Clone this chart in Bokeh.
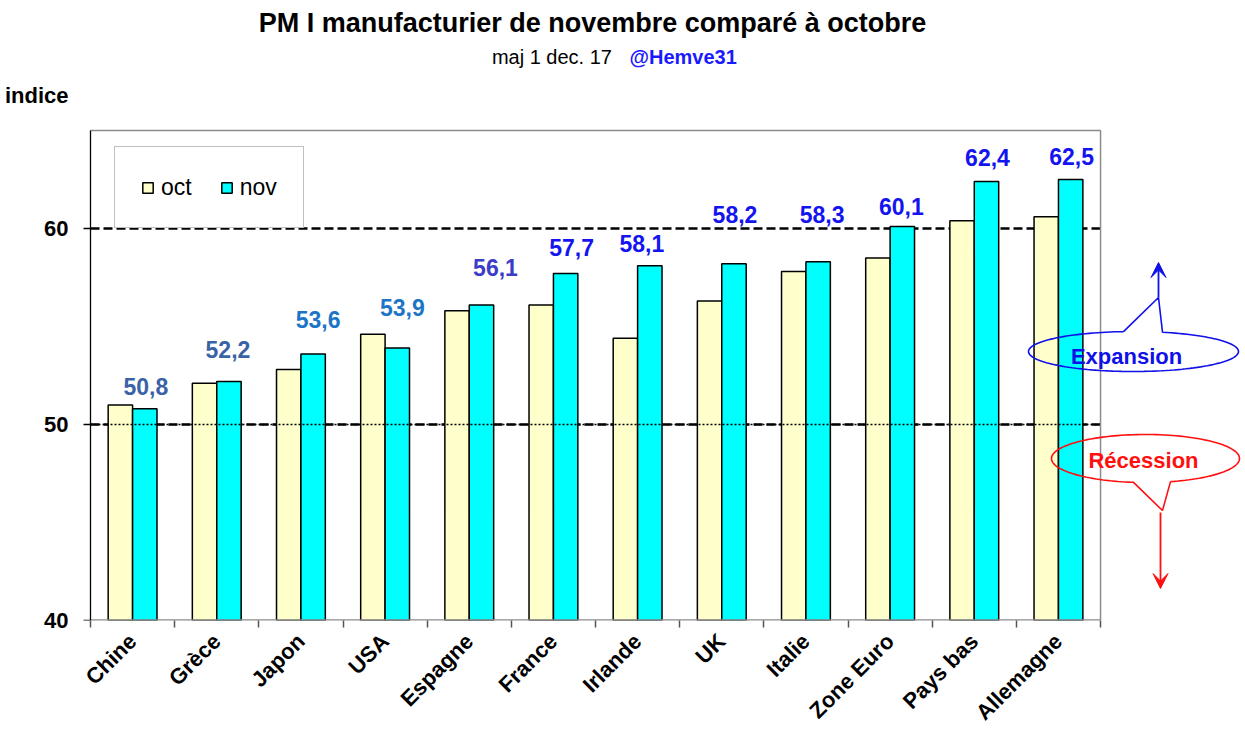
import numpy as np
from math import pi
from bokeh.plotting import figure
from bokeh.models import (FixedTicker, Range1d, Label, Arrow, VeeHead, Legend, LegendItem,
                          ColumnDataSource, CustomJSTickFormatter)
from bokeh.embed import file_html
from bokeh.resources import INLINE
from bokeh.core.properties import value

# ---------------- data ----------------
categories = ["Chine", "Grèce", "Japon", "USA", "Espagne", "France", "Irlande", "UK",
              "Italie", "Zone Euro", "Pays bas", "Allemagne"]
oct_values = [51.0, 52.1, 52.8, 54.6, 55.8, 56.1, 54.4, 56.3, 57.8, 58.5, 60.4, 60.6]
nov_values = [50.8, 52.2, 53.6, 53.9, 56.1, 57.7, 58.1, 58.2, 58.3, 60.1, 62.4, 62.5]
series_names = ["oct", "nov"]
y_ticks = [40, 50, 60]
recession_line = 50
upper_line = 60
title_text = "PM I   manufacturier  de novembre  comparé à octobre"
subtitle_text = "maj  1 dec. 17"
author_text = "@Hemve31"
y_title = "indice"
expansion_text = "Expansion"
recession_text = "Récession"

# ---------------- style ----------------
FONT = "Liberation Sans"
OCT_COLOR = "#ffffcc"
NOV_COLOR = "#00ffff"
label_colors = ["#3a62a6", "#3a62a6", "#1c75c6", "#1c75c6", "#3c3cc8",
                "#1414f0", "#1414f0", "#1414f0", "#1414f0", "#1414f0", "#1414f0", "#1414f0"]
label_dx = [1, -1, 5, 5, 14, 6, -8, 1, 4, -1, 1, 1]        # px
label_gap = [22, 32, 34, 41, 37, 26, 22, 49, 47, 20, 24, 23]  # px above bar top

W, H = 1245, 736
AXIS_X = 90          # page x of the value axis
FRAME_L = 82         # page x of frame left
FRAME_B = 620        # page y of y=40
CAT_PX = 84.17
Y0, Y_TOP = 40, 65
SY = 19.6


def X(px):  # page pixel -> data x
    return (px - AXIS_X) / CAT_PX


def Y(py):  # page pixel -> data y
    return Y0 + (FRAME_B - py) / SY


n = len(categories)
centers = np.arange(n) + 0.5
bw = 0.29

src = ColumnDataSource(dict(
    x_oct=centers - bw / 2, x_nov=centers + bw / 2,
    oct=oct_values, nov=nov_values,
    lbl=[f"{v:.1f}".replace(".", ",") for v in nov_values],
    col=label_colors, dx=label_dx, dy=[-g for g in label_gap],
))

p = figure(width=W, height=H, x_range=Range1d(X(FRAME_L), X(W)), y_range=Range1d(Y0, Y(0)),
           output_backend="svg", toolbar_location=None,
           min_border_left=FRAME_L, min_border_right=0, min_border_top=0,
           min_border_bottom=H - FRAME_B)
p.outline_line_color = None
p.xgrid.visible = False
p.ygrid.visible = False
p.background_fill_color = "white"
p.border_fill_color = "white"

# reference lines under bars
p.segment(x0=[0, 0], x1=[n, n], y0=[upper_line, recession_line], y1=[upper_line, recession_line],
          line_color="black", line_width=2.5, line_dash="9 4")

r_oct = p.vbar(x="x_oct", top="oct", bottom=Y0, width=bw, source=src,
               fill_color=OCT_COLOR, line_color="black", line_width=1.5)
r_nov = p.vbar(x="x_nov", top="nov", bottom=Y0, width=bw, source=src,
               fill_color=NOV_COLOR, line_color="black", line_width=1.5)

# dotted 50 line over bars
p.segment(x0=[0], x1=[n], y0=[recession_line], y1=[recession_line],
          line_color="black", line_width=1.5, line_dash="2 2")

# plot-area border (gray) top, right, bottom
p.line(x=[0, n, n], y=[Y_TOP, Y_TOP, Y0], line_color="#8c8c8c", line_width=1.5)
p.line(x=[0, n], y=[Y0, Y0], line_color="#8c8c8c", line_width=2.4)
# value axis line and its ticks
p.line(x=[0, 0], y=[Y0, Y_TOP], line_color="black", line_width=1.3)
p.segment(x0=[X(83)] * len(y_ticks), x1=[0] * len(y_ticks), y0=y_ticks, y1=y_ticks,
          line_color="black", line_width=1.3)

# value labels
p.text(x="x_nov", y="nov", text="lbl", x_offset="dx", y_offset="dy", text_color="col",
       text_font=value(FONT), text_font_style="bold", text_font_size="23px",
       text_align="center", text_baseline="middle", source=src)

# x axis
p.xaxis.ticker = FixedTicker(ticks=list(centers), minor_ticks=list(range(n + 1)))
p.xaxis.formatter = CustomJSTickFormatter(args=dict(cats=categories),
                                          code="return cats[Math.floor(tick)];")
p.xaxis.axis_line_color = None
p.xaxis.major_tick_in = 0
p.xaxis.major_tick_out = 0
p.xaxis.minor_tick_in = 0
p.xaxis.minor_tick_out = 7
p.xaxis.minor_tick_line_color = "#555555"
p.xaxis.minor_tick_line_width = 1.5
p.xaxis.major_label_orientation = pi / 4
p.xaxis.major_label_standoff = 10
p.xaxis.major_label_text_font = FONT
p.xaxis.major_label_text_font_style = "bold"
p.xaxis.major_label_text_font_size = "22px"
p.xaxis.major_label_text_color = "black"

# y axis (labels only; line and ticks drawn above in the plot area)
p.yaxis.ticker = FixedTicker(ticks=y_ticks + [Y(95)], minor_ticks=[])
p.yaxis.formatter = CustomJSTickFormatter(args=dict(name=y_title, top=Y_TOP),
                                          code="return tick > top ? name : tick.toFixed(0);")
p.yaxis.axis_line_color = None
p.yaxis.major_tick_in = 0
p.yaxis.major_tick_out = 0
p.yaxis.minor_tick_line_color = None
p.yaxis.major_label_standoff = 14
p.yaxis.major_label_text_font = FONT
p.yaxis.major_label_text_font_style = "bold"
p.yaxis.major_label_text_font_size = "22px"
p.yaxis.major_label_text_color = "black"

# legend
legend = Legend(items=[LegendItem(label=series_names[0], renderers=[r_oct]),
                       LegendItem(label=series_names[1], renderers=[r_nov])],
                location=(114 - FRAME_L, FRAME_B - 228), orientation="horizontal",
                margin=0, padding=26, spacing=28, label_standoff=7,
                glyph_width=13, glyph_height=13, label_height=28,
                label_text_font=FONT, label_text_font_size="23px", label_text_color="black",
                border_line_color="#808080", border_line_width=1,
                background_fill_color="white", background_fill_alpha=1.0)
p.add_layout(legend)

# titles
p.add_layout(Label(x=X(607), y=Y(22), text=title_text, text_font=FONT, text_font_style="bold",
                   text_font_size="27px", text_align="center", text_baseline="middle",
                   text_color="black"))
p.add_layout(Label(x=X(617), y=Y(56), text=subtitle_text, text_font=FONT,
                   text_font_size="20px", text_align="right", text_baseline="middle",
                   text_color="black"))
p.add_layout(Label(x=X(629), y=Y(56), text=author_text, text_font=FONT, text_font_style="bold",
                   text_font_size="20px", text_align="left", text_baseline="middle",
                   text_color="#1a1aff"))


# callouts
def callout(cx, cy, a, b, x_left, x_right, tip, top_side):
    if top_side:
        t1 = np.arccos((x_right - cx) / a)
        t0 = np.arccos((x_left - cx) / a)
        ts = np.linspace(t0, t1 + 2 * pi, 140)
    else:
        t_left = 2 * pi - np.arccos((x_left - cx) / a)
        t_right = 2 * pi - np.arccos((x_right - cx) / a)
        ts = np.linspace(t_right, t_left + 2 * pi, 140)
    xs = list(cx + a * np.cos(ts)) + [tip[0], cx + a * np.cos(ts[0])]
    ys = list(cy - b * np.sin(ts)) + [tip[1], cy - b * np.sin(ts[0])]
    return [X(v) for v in xs], [Y(v) for v in ys]


BLUE = "#1010e8"
RED = "#ff1010"
ex, ey = callout(1133, 351, 105, 20, 1123, 1162, (1158, 297), True)
p.line(x=ex, y=ey, line_color=BLUE, line_width=1.6)
p.add_layout(Arrow(end=VeeHead(size=15, fill_color=BLUE, line_color=BLUE),
                   x_start=X(1158), y_start=Y(297), x_end=X(1158), y_end=Y(262),
                   line_color=BLUE, line_width=1.8))
p.add_layout(Label(x=X(1126), y=Y(356), text=expansion_text, text_font=FONT,
                   text_font_style="bold", text_font_size="22px", text_align="center",
                   text_baseline="middle", text_color=BLUE))

rx, ry = callout(1145, 458, 94, 24, 1133, 1170, (1162, 510), False)
p.line(x=rx, y=ry, line_color=RED, line_width=1.6)
p.add_layout(Arrow(end=VeeHead(size=15, fill_color=RED, line_color=RED),
                   x_start=X(1160), y_start=Y(512), x_end=X(1160), y_end=Y(588),
                   line_color=RED, line_width=1.8))
p.add_layout(Label(x=X(1143), y=Y(460), text=recession_text, text_font=FONT,
                   text_font_style="bold", text_font_size="22px", text_align="center",
                   text_baseline="middle", text_color=RED))

open("out.html", "w").write(file_html(p, INLINE))
